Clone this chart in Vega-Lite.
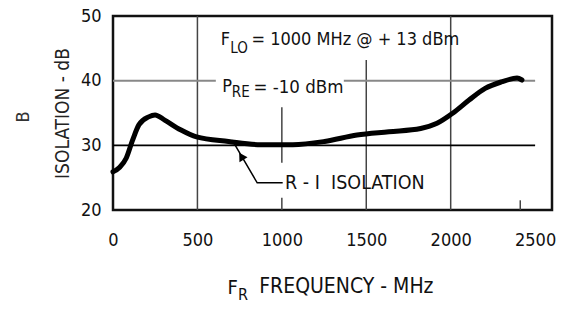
{
  "$schema": "https://vega.github.io/schema/vega-lite/v6.json",
  "width": 439,
  "height": 194,
  "autosize": {"type": "none"},
  "padding": {"left": 113, "top": 16, "right": 29, "bottom": 100},
  "background": "white",
  "config": {
    "view": {"stroke": "#111", "strokeWidth": 2.5},
    "font": "'DejaVu Sans Condensed', 'Liberation Sans Narrow', 'Liberation Sans', sans-serif"
  },
  "datasets": {
    "curve": [
      {"f": 0, "iso": 25.9}, {"f": 40, "iso": 26.6}, {"f": 78, "iso": 28.0}, {"f": 116, "iso": 30.8},
      {"f": 154, "iso": 33.2}, {"f": 211, "iso": 34.4}, {"f": 249, "iso": 34.7},
      {"f": 306, "iso": 33.9}, {"f": 400, "iso": 32.4}, {"f": 495, "iso": 31.3},
      {"f": 684, "iso": 30.6}, {"f": 875, "iso": 30.1}, {"f": 1065, "iso": 30.1},
      {"f": 1253, "iso": 30.6}, {"f": 1445, "iso": 31.6}, {"f": 1634, "iso": 32.1},
      {"f": 1822, "iso": 32.6}, {"f": 1919, "iso": 33.4}, {"f": 2014, "iso": 35.0},
      {"f": 2109, "iso": 37.0}, {"f": 2204, "iso": 38.8}, {"f": 2299, "iso": 39.8},
      {"f": 2393, "iso": 40.4}, {"f": 2422, "iso": 40.1}
    ],
    "grid": [
      {"x1": 500, "x2": 500, "y1": 20, "y2": 50, "c": "v"},
      {"x1": 1000, "x2": 1000, "y1": 27.3, "y2": 35.9, "c": "v"},
      {"x1": 1000, "x2": 1000, "y1": 20, "y2": 21.9, "c": "v"},
      {"x1": 1500, "x2": 1500, "y1": 20, "y2": 43.2, "c": "v"},
      {"x1": 2000, "x2": 2000, "y1": 20, "y2": 50, "c": "v"},
      {"x1": 2412, "x2": 2412, "y1": 20, "y2": 21.5, "c": "v"},
      {"x1": 0, "x2": 2500, "y1": 30, "y2": 30, "c": "h30"},
      {"x1": 0, "x2": 609, "y1": 40, "y2": 40, "c": "h40"},
      {"x1": 1367, "x2": 2500, "y1": 40, "y2": 40, "c": "h40"}
    ],
    "labels": [
      {"x": 638, "y": 46.3, "t": "F", "s": 18},
      {"x": 695, "y": 45.0, "t": "LO", "s": 15},
      {"x": 820, "y": 46.3, "t": "= 1000 MHz @ + 13 dBm", "s": 18},
      {"x": 647, "y": 39.0, "t": "P", "s": 18},
      {"x": 704, "y": 38.25, "t": "RE", "s": 15},
      {"x": 832, "y": 39.0, "t": "= -10 dBm", "s": 18.5},
      {"x": 1019, "y": 24.2, "t": "R - I\u00a0\u00a0ISOLATION", "s": 19.5},
      {"x": 678, "y": 7.96, "t": "F", "s": 20},
      {"x": 740, "y": 6.9, "t": "R", "s": 16},
      {"x": 866, "y": 8.1, "t": "FREQUENCY - MHz", "s": 21}
    ],
    "arrow": [
      {"f": 1005, "v": 24.2, "o": 1},
      {"f": 854, "v": 24.2, "o": 2},
      {"f": 706, "v": 30.8, "o": 3}
    ],
    "head": [{"f": 760, "v": 28.3}],
    "side": [{"f": -530, "v": 34.4, "t": "B"}]
  },
  "layer": [
    {
      "data": {"name": "grid"},
      "mark": {"type": "rule"},
      "encoding": {
        "x": {"field": "x1", "type": "quantitative", "scale": {"domain": [0, 2500]},
              "axis": {"values": [0, 500, 1000, 1500, 2000, 2500], "format": "d", "grid": false, "ticks": false, "domain": false,
                       "labelFontSize": 18, "labelPadding": 21, "labelColor": "#111", "title": null, "labelFlush": false}},
        "x2": {"field": "x2"},
        "y": {"field": "y1", "type": "quantitative", "scale": {"domain": [20, 50]},
              "axis": {"values": [20, 30, 40, 50], "grid": false, "ticks": false, "domain": false,
                       "labelFontSize": 18, "labelPadding": 12, "labelColor": "#111",
                       "title": "ISOLATION - dB", "titleFontSize": 19, "titleFontWeight": "normal",
                       "titleColor": "#222", "titlePadding": 8}},
        "y2": {"field": "y2"},
        "color": {"field": "c", "type": "nominal", "legend": null,
                  "scale": {"domain": ["v", "h30", "h40"], "range": ["#444", "#000", "#888"]}},
        "strokeWidth": {"field": "c", "type": "nominal", "legend": null,
                  "scale": {"domain": ["v", "h30", "h40"], "range": [1.5, 2, 2]}}
      }
    },
    {
      "data": {"name": "curve"},
      "mark": {"type": "line", "color": "#000", "strokeWidth": 5, "interpolate": "monotone", "strokeCap": "round"},
      "encoding": {
        "x": {"field": "f", "type": "quantitative"},
        "y": {"field": "iso", "type": "quantitative"}
      }
    },
    {
      "data": {"name": "arrow"},
      "mark": {"type": "line", "color": "#000", "strokeWidth": 1.5},
      "encoding": {
        "x": {"field": "f", "type": "quantitative"},
        "y": {"field": "v", "type": "quantitative"},
        "order": {"field": "o"}
      }
    },
    {
      "data": {"name": "head"},
      "mark": {"type": "point", "shape": "triangle-up", "filled": true, "color": "#000", "size": 90, "angle": 328, "opacity": 1},
      "encoding": {
        "x": {"field": "f", "type": "quantitative"},
        "y": {"field": "v", "type": "quantitative"}
      }
    },
    {
      "data": {"name": "labels"},
      "mark": {"type": "text", "align": "left", "baseline": "middle", "color": "#111"},
      "encoding": {
        "x": {"field": "x", "type": "quantitative"},
        "y": {"field": "y", "type": "quantitative"},
        "text": {"field": "t"},
        "size": {"field": "s", "type": "quantitative", "scale": null}
      }
    },
    {
      "data": {"name": "side"},
      "mark": {"type": "text", "angle": 270, "baseline": "middle", "align": "center", "color": "#333", "fontSize": 18},
      "encoding": {
        "x": {"field": "f", "type": "quantitative"},
        "y": {"field": "v", "type": "quantitative"},
        "text": {"field": "t"}
      }
    }
  ]
}
